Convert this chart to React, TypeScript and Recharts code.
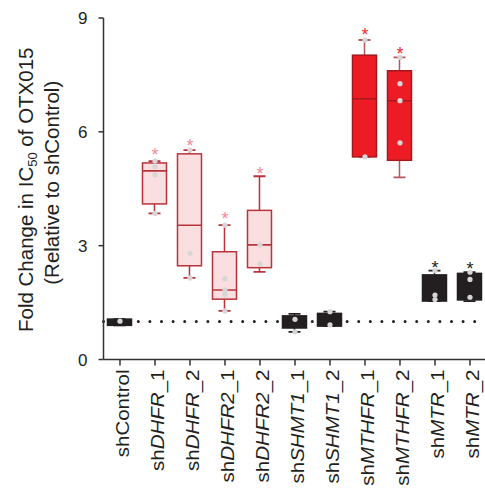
import React from 'react';
import { ComposedChart, Bar, Scatter, XAxis, YAxis, ReferenceLine } from 'recharts';

// ---- data ----
const categories = ['shControl', 'shDHFR_1', 'shDHFR_2', 'shDHFR2_1', 'shDHFR2_2', 'shSHMT1_1', 'shSHMT1_2', 'shMTHFR_1', 'shMTHFR_2', 'shMTR_1', 'shMTR_2'];
const labelParts: string[][] = [
  ['sh', '', 'Control'],
  ['sh', 'DHFR', '_1'],
  ['sh', 'DHFR', '_2'],
  ['sh', 'DHFR2', '_1'],
  ['sh', 'DHFR2', '_2'],
  ['sh', 'SHMT1', '_1'],
  ['sh', 'SHMT1', '_2'],
  ['sh', 'MTHFR', '_1'],
  ['sh', 'MTHFR', '_2'],
  ['sh', 'MTR', '_1'],
  ['sh', 'MTR', '_2'],
];
const groups = ['dark', 'light', 'light', 'light', 'light', 'dark', 'dark', 'red', 'red', 'dark', 'dark'];
const whiskerMin = [0.9, 3.85, 2.15, 1.28, 2.31, 0.73, 0.88, 5.34, 4.8, 1.54, 1.54];
const quartile1 = [0.9, 4.1, 2.47, 1.59, 2.42, 0.83, 0.88, 5.34, 5.25, 1.54, 1.57];
const medians = [1.0, 4.97, 3.54, 1.83, 3.02, 1.0, 1.1, 6.87, 6.82, 1.8, 2.0];
const quartile3 = [1.065, 5.18, 5.42, 2.84, 3.93, 1.15, 1.215, 8.02, 7.61, 2.23, 2.27];
const whiskerMax = [1.065, 5.23, 5.52, 3.54, 4.83, 1.2, 1.26, 8.42, 7.96, 2.34, 2.3];
const replicates: number[][] = [
  [1.01],
  [5.23, 5.08, 4.87, 3.85],
  [5.52, 2.8, 2.15],
  [3.54, 2.13, 1.83, 1.72, 1.28],
  [3.02, 2.52],
  [1.06, 0.73],
  [1.26, 0.91],
  [8.42, 5.34],
  [7.96, 7.27, 6.82, 5.71],
  [2.34, 1.7, 1.58],
  [2.3, 2.11, 1.64],
];
const significance: (number | null)[] = [null, 5.5, 5.75, 3.81, 5.01, null, null, 8.66, 8.16, 2.52, 2.5];
const yTicks = [0, 3, 6, 9];

// ---- styles ----
const FONT = '"Liberation Sans", Arial, Helvetica, sans-serif';
const INK = '#231f20';
const palette: Record<string, { fill: string; stroke: string; whisker: string; star: string; median: string }> = {
  dark: { fill: '#231f20', stroke: '#231f20', whisker: '#231f20', star: '#231f20', median: '#231f20' },
  light: { fill: '#fbdfe0', stroke: '#b8333a', whisker: '#b8333a', star: '#f28b9b', median: '#b8333a' },
  red: { fill: '#ed1c24', stroke: '#a5181e', whisker: '#b5585c', star: '#ee2b2f', median: '#a5181e' },
};

const rows = categories.map((name, i) => ({
  x: i,
  name,
  group: groups[i],
  whisker: [whiskerMin[i], whiskerMax[i]],
  box: [quartile1[i], quartile3[i]],
}));
const medianData = categories.map((name, i) => ({ x: i, y: medians[i], group: groups[i] }));
const pointData = replicates.flatMap((vals, i) => vals.map((v) => ({ x: i, y: v, group: groups[i] })));
const starData = significance
  .map((v, i) => (v == null ? null : { x: i, y: v, group: groups[i] }))
  .filter(Boolean) as { x: number; y: number; group: string }[];

const WhiskerShape = (props: any) => {
  const { x, y, width, height, payload } = props;
  if (x == null || y == null) return null;
  const top = Math.min(y, y + height);
  const bot = Math.max(y, y + height);
  const cx = x + width / 2;
  const c = palette[payload.group].whisker;
  return (
    <g>
      <line x1={cx} x2={cx} y1={top} y2={bot} stroke={c} strokeWidth={1.5} />
      <line x1={x} x2={x + width} y1={top} y2={top} stroke={c} strokeWidth={1.8} />
      <line x1={x} x2={x + width} y1={bot} y2={bot} stroke={c} strokeWidth={1.8} />
    </g>
  );
};

const BoxShape = (props: any) => {
  const { x, y, width, height, payload } = props;
  if (x == null || y == null) return null;
  const top = Math.min(y, y + height);
  const h = Math.abs(height);
  const p = palette[payload.group];
  return <rect x={x} y={top} width={width} height={h} fill={p.fill} stroke={p.stroke} strokeWidth={1.5} />;
};

const MedianShape = (props: any) => {
  const { cx, cy, payload } = props;
  if (cx == null || cy == null) return null;
  return <line x1={cx - 12} x2={cx + 12} y1={cy} y2={cy} stroke={palette[payload.group].median} strokeWidth={1.6} />;
};

const DotShape = (props: any) => {
  const { cx, cy } = props;
  if (cx == null || cy == null) return null;
  return <circle cx={cx} cy={cy} r={2.6} fill="#d6d6d6" />;
};

const StarShape = (props: any) => {
  const { cx, cy, payload } = props;
  if (cx == null || cy == null) return null;
  return (
    <text x={cx} y={cy + 10.5} textAnchor="middle" fontSize={18} fontFamily={FONT} fill={palette[payload.group].star}>
      *
    </text>
  );
};

const CategoryTick = (props: any) => {
  const { x, y, payload } = props;
  const parts = labelParts[payload.value];
  if (!parts) return null;
  return (
    <g transform={`translate(${x},${y})`}>
      <text transform="rotate(-90) scale(1.08,1)" x={0} y={0} dy={9.5} textAnchor="end" fontSize={19} fontFamily={FONT} fill={INK}>
        <tspan>{parts[0]}</tspan>
        {parts[1] ? <tspan fontStyle="italic">{parts[1]}</tspan> : null}
        <tspan>{parts[2]}</tspan>
      </text>
    </g>
  );
};

const YLabel = (props: any) => {
  const vb = props.viewBox || { x: 0, y: 18, width: 103.5, height: 341.5 };
  const cy = vb.y + vb.height / 2;
  return (
    <g>
      <text transform={`translate(33, ${cy + 1}) rotate(-90)`} textAnchor="middle" fontSize={20.5} fontFamily={FONT} fill={INK}>
        <tspan>Fold Change in IC</tspan>
        <tspan fontSize={13} dy={4}>50</tspan>
        <tspan dy={-4}> of OTX015</tspan>
      </text>
      <text transform={`translate(59, ${cy - 6}) rotate(-90)`} textAnchor="middle" fontSize={20.5} fontFamily={FONT} fill={INK}>
        (Relative to shControl)
      </text>
    </g>
  );
};

const xDomain = [-0.471, 10.429];
const xTicks = categories.map((_, i) => i);

export default function App() {
  return (
    <div style={{ position: 'absolute', left: 0, top: 0, width: 485, height: 489, background: '#fff' }}>
      <ComposedChart width={485} height={489} data={rows} margin={{ top: 18, right: 0, bottom: 0, left: 0 }}>
        <XAxis
          xAxisId="a"
          dataKey="x"
          type="number"
          domain={xDomain}
          ticks={xTicks}
          interval={0}
          allowDataOverflow
          height={129.5}
          tickSize={6}
          tickMargin={4}
          tick={<CategoryTick />}
          axisLine={{ stroke: '#333', strokeWidth: 1.5 }}
          tickLine={{ stroke: '#333', strokeWidth: 1.5 }}
        />
        <XAxis xAxisId="b" dataKey="x" type="number" domain={xDomain} allowDataOverflow hide />
        <YAxis
          type="number"
          domain={[0, 9]}
          ticks={yTicks}
          interval={0}
          width={103.5}
          tickSize={5}
          tickMargin={11}
          tick={{ fontSize: 17, fill: INK, fontFamily: FONT }}
          axisLine={{ stroke: '#333', strokeWidth: 1.5 }}
          tickLine={{ stroke: '#333', strokeWidth: 1.5 }}
          label={<YLabel />}
        />
        <ReferenceLine
          xAxisId="a"
          y={1}
          stroke={INK}
          strokeWidth={3}
          strokeDasharray="0 11.6"
          strokeLinecap="round"
        />
        <Bar xAxisId="b" dataKey="whisker" barSize={12} shape={WhiskerShape} isAnimationActive={false} />
        <Bar xAxisId="a" dataKey="box" barSize={24} shape={BoxShape} isAnimationActive={false} />
        <Scatter xAxisId="a" data={medianData} dataKey="y" shape={MedianShape} isAnimationActive={false} />
        <Scatter xAxisId="a" data={pointData} dataKey="y" shape={DotShape} isAnimationActive={false} />
        <Scatter xAxisId="a" data={starData} dataKey="y" shape={StarShape} isAnimationActive={false} />
      </ComposedChart>
    </div>
  );
}
